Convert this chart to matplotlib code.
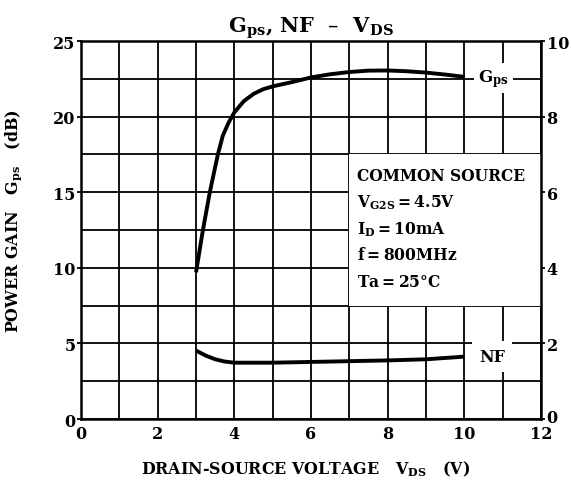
import matplotlib
matplotlib.use("Agg")
import matplotlib.pyplot as plt
from matplotlib.patches import Rectangle
from matplotlib.transforms import ScaledTranslation

plt.rcParams['font.family'] = ['DejaVu Serif']
plt.rcParams['font.weight'] = 'bold'

# Data
vds_gps = [3.0, 3.18, 3.36, 3.57, 3.7, 3.85, 4.0, 4.25, 4.5, 4.75, 5.0, 5.5, 6.0,
           6.5, 7.0, 7.5, 8.0, 8.5, 9.0, 9.5, 10.0]
gps = [9.7, 12.5, 15.0, 17.5, 18.75, 19.6, 20.28, 21.03, 21.5, 21.81, 22.0, 22.28, 22.59,
       22.8, 22.95, 23.04, 23.05, 23.0, 22.91, 22.78, 22.63]

vds_nf = [3.0, 3.25, 3.5, 3.75, 4.0, 5.0, 6.0, 7.0, 8.0, 9.0, 10.0]
nf = [1.81, 1.68, 1.58, 1.52, 1.49, 1.49, 1.51, 1.53, 1.55, 1.58, 1.65]

x_ticks = [0, 2, 4, 6, 8, 10, 12]
left_ticks = [0, 5, 10, 15, 20, 25]
right_ticks = [0, 2, 4, 6, 8, 10]

conditions = ["COMMON SOURCE",
              r"$\mathregular{V_{G2S}}$$\mathregular{=4.5V}$",
              r"$\mathregular{I_D}$$\mathregular{=10mA}$",
              r"$\mathregular{f=800MHz}$",
              r"$\mathregular{Ta=25°C}$"]

fig = plt.figure(figsize=(5.71, 4.85), dpi=100)
ax = fig.add_axes([0.1419, 0.134, 0.8056, 0.7794])
ax.set_xlim(0, 12)
ax.set_ylim(0, 25)
ax.set_xticks(x_ticks)
ax.set_xticks([1, 3, 5, 7, 9, 11], minor=True)
ax.set_yticks(left_ticks)
ax.set_yticks([2.5, 7.5, 12.5, 17.5, 22.5], minor=True)
ax.set_axisbelow(True)
ax.grid(True, which='both', color='black', linewidth=1.3)
ax.tick_params(axis='x', which='both', length=0, labelsize=11.5, pad=4)
ax.tick_params(axis='y', which='major', length=3, width=1.3, labelsize=11.5, pad=1)
ax.tick_params(axis='y', which='minor', length=0)
for lab in ax.get_xticklabels() + ax.get_yticklabels():
    lab.set_fontweight('bold')
for s in ax.spines.values():
    s.set_linewidth(1.8)
    s.set_zorder(5)

# white box covering the grid under the conditions text
ax.add_patch(Rectangle((7, 7.5), 5, 10, facecolor='white', edgecolor='none', zorder=1))

ax2 = ax.twinx()
ax2.set_ylim(0, 10)
ax2.set_yticks(right_ticks)
ax2.tick_params(length=3, width=1.3, labelsize=11.5, pad=1)
rlabels = ax2.get_yticklabels()
for lab in rlabels:
    lab.set_fontweight('bold')
for s in ax2.spines.values():
    s.set_visible(False)
# lift the right-hand "0" slightly, as in the reference
t0 = ax2.yaxis.get_major_ticks()[0]
t0.label2.set_transform(t0.label2.get_transform() +
                        ScaledTranslation(0, 4 / 100, fig.dpi_scale_trans))

ax.plot(vds_gps, gps, color='black', linewidth=2.8, zorder=3,
        solid_capstyle='butt', solid_joinstyle='round')
ax2.plot(vds_nf, nf, color='black', linewidth=2.8, zorder=3,
         solid_capstyle='butt', solid_joinstyle='round')

ax.text(10.75, 22.55, r"$\mathregular{G_{ps}}$", fontsize=12, fontweight='bold',
        ha='center', va='center', zorder=4,
        bbox=dict(facecolor='white', edgecolor='none', pad=3))
ax.text(10.72, 4.15, "NF", fontsize=11.5, fontweight='bold',
        ha='center', va='center', zorder=4,
        bbox=dict(facecolor='white', edgecolor='none', pad=5))

y0 = 16.1
for i, t in enumerate(conditions):
    ax.text(7.2, y0 - i * 1.75, t, fontsize=11.2, fontweight='bold',
            ha='left', va='center', zorder=4)

ax.set_title(r"$\mathregular{G_{ps}}$, NF  –  $\mathregular{V_{DS}}$",
             fontsize=15, fontweight='bold', pad=7)
ax.set_xlabel(r"DRAIN-SOURCE VOLTAGE   $\mathregular{V_{DS}}$   (V)",
              fontsize=11.4, fontweight='bold')
ax.set_ylabel(r"POWER GAIN   $\mathregular{G_{ps}}$   (dB)",
              fontsize=11.4, fontweight='bold')
ax.xaxis.set_label_coords(0.488, -0.105)
ax.yaxis.set_label_coords(-0.123, 0.525)

fig.savefig("out.png", dpi=100)
